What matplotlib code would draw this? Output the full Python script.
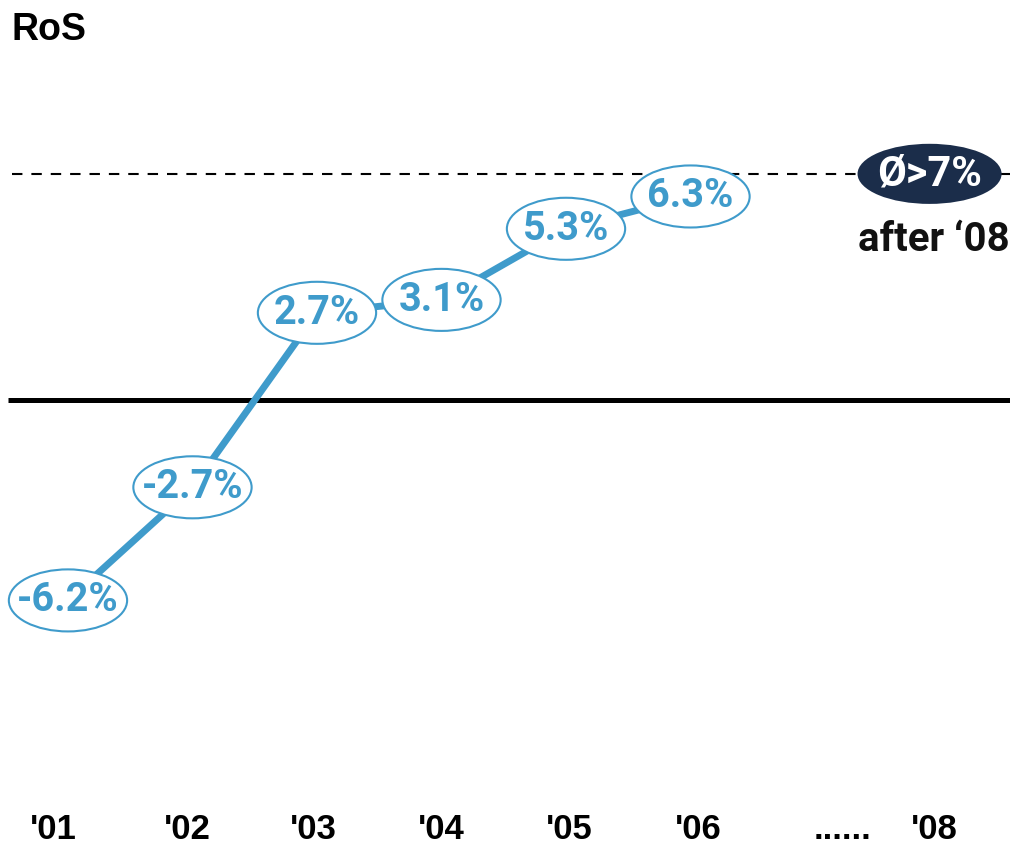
import numpy as np
import matplotlib
matplotlib.use('Agg')
import matplotlib.pyplot as plt
from matplotlib.patches import Ellipse

#--------------------------------------------
# data
years = ["'01", "'02", "'03", "'04", "'05", "'06"]
ros = [-6.2, -2.7, 2.7, 3.1, 5.3, 6.3]
axis_labels = ["'01", "'02", "'03", "'04", "'05", "'06", "......", "'08"]
target = 7
target_text = 'Ø>7%'
target_note = 'after \u201808'
title = 'RoS'
#--------------------------------------------
# style
blue = '#3f9bcb'
navy = '#1b2d4a'
label_font = 'Roboto'
arial = ['Liberation Sans', 'DejaVu Sans']
tick_x = [-0.12, 0.956, 1.97, 3.0, 4.03, 5.06, 6.22, 6.96]
#--------------------------------------------

fig = plt.figure(figsize=(10.1, 8.46), dpi=100)
ax = fig.add_axes([0, 0, 1, 1])
ax.set_xlim(-0.546, 7.566)
ax.set_ylim(-13.8, 12.38)
ax.axis('off')

xs = np.arange(len(ros))

# reference lines
ax.plot([-0.48, 7.6], [0, 0], color='black', lw=3.6, solid_capstyle='butt', zorder=1)
ax.plot([-0.45, 7.6], [target, target], color='black', lw=1.5,
        ls=(0, (5, 4.3)), dash_capstyle='butt', zorder=1)

# series line
ax.plot(xs, ros, color=blue, lw=5, solid_capstyle='butt', zorder=2)

for x, v in zip(xs, ros):
    e = Ellipse((x, v), width=0.95, height=1.92, facecolor='white',
                edgecolor=blue, lw=1.5, zorder=3)
    ax.add_patch(e)
    ax.text(x, v, '%.1f%%' % v, ha='center', va='center', color=blue,
            fontsize=28.5, fontweight='bold', family=label_font, zorder=4)

# target badge
e = Ellipse((6.92, target), width=1.157, height=1.86, facecolor=navy,
            edgecolor='none', zorder=3)
ax.add_patch(e)
ax.text(6.92, target, target_text, ha='center', va='center', color='white',
        fontsize=30, fontweight='bold', family=label_font, zorder=4)
ax.text(7.56, 4.95, target_note, ha='right', va='center', color='#111111',
        fontsize=29, fontweight='bold', family=label_font)

# title
ax.text(-0.45, 12.0, title, ha='left', va='top', fontsize=27,
        fontweight='bold', family=arial)

# x labels
for x, s in zip(tick_x, axis_labels):
    ax.text(x, -13.3, s, ha='center', va='center', fontsize=25,
            fontweight='bold', family=arial)

plt.savefig('out.png', dpi=100)
